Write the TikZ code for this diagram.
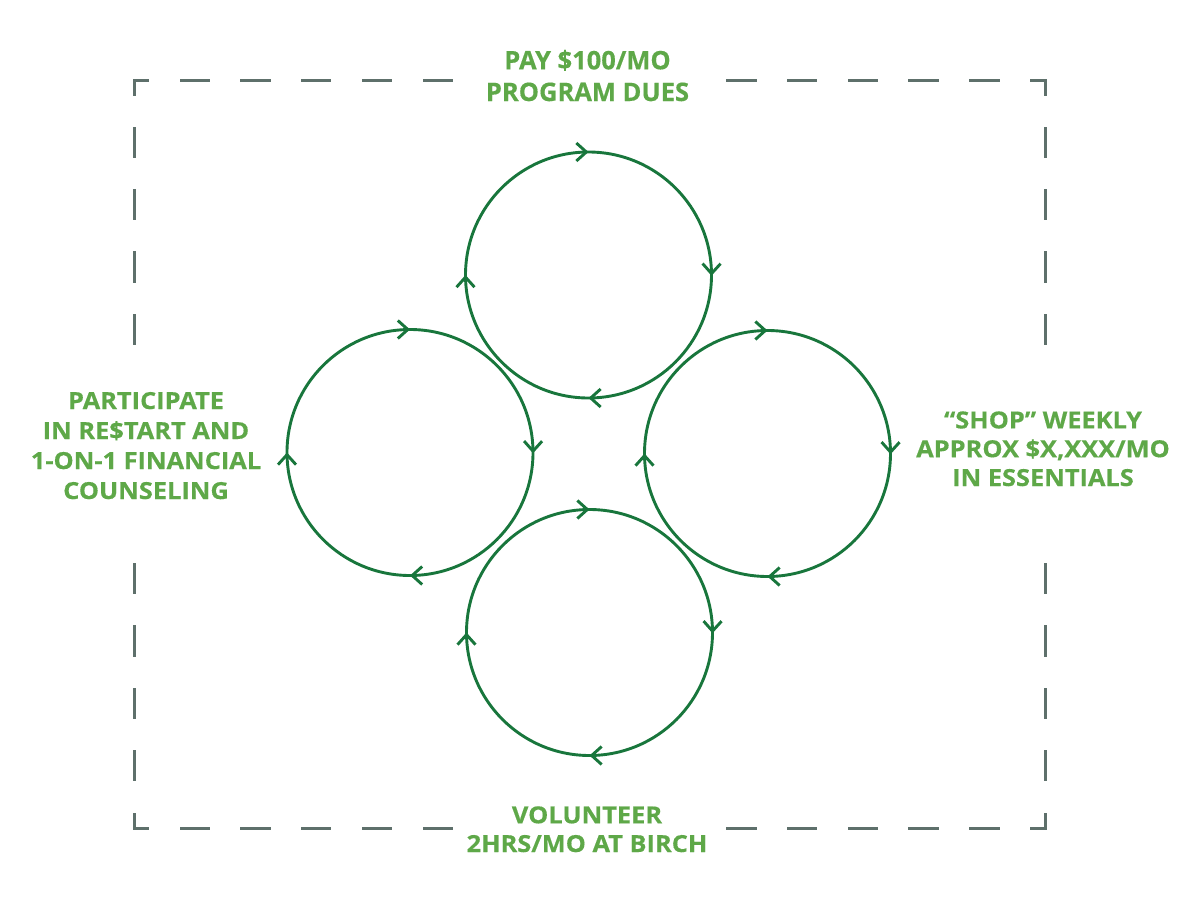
\documentclass[tikz,border=0pt]{standalone}
\usepackage{fontspec}
\setmainfont{Open Sans}
\newfontfamily\toplabelfont{Open Sans}[FakeBold=0.4]
\newfontfamily\sidelabelfont{Open Sans}[FakeStretch=1.08,FakeBold=0.4]
\usetikzlibrary{arrows.meta,decorations.markings}
\definecolor{lblgreen}{RGB}{94,168,72}
\definecolor{ringgreen}{RGB}{24,118,60}
\definecolor{framegray}{RGB}{94,112,107}
\begin{document}
\begin{tikzpicture}[x=1pt,y=-1pt,
  ringpath/.style={draw=ringgreen, line width=2.9pt, postaction={decorate},
    decoration={markings,
      mark=at position 0.001 with {\arrow{Straight Barb[length=10pt,width=18pt]}},
      mark=at position 0.25 with {\arrow{Straight Barb[length=10pt,width=18pt]}},
      mark=at position 0.5 with {\arrow{Straight Barb[length=10pt,width=18pt]}},
      mark=at position 0.75 with {\arrow{Straight Barb[length=10pt,width=18pt]}}}},
  hdashline/.style={draw=framegray, line width=3pt, line cap=rect,
    dash pattern=on 27.37pt off 33.37pt, dash phase=13.68pt},
  vdashline/.style={draw=framegray, line width=3pt, line cap=rect,
    dash pattern=on 28.17pt off 34.17pt, dash phase=14.08pt},
  biglabel/.style={font=\toplabelfont\fontsize{25.5}{31.7}\selectfont\bfseries, text=lblgreen,
    fill=white, align=center, anchor=base},
  smalllabel/.style={font=\sidelabelfont\fontsize{23.5}{29.3}\selectfont\bfseries, text=lblgreen,
    fill=white, align=center, anchor=base}
]
\useasboundingbox (0,0) rectangle (1200,900);
% frame
\coordinate (tl) at (134,80);
\coordinate (tr) at (1045,80);
\coordinate (bl) at (134,828);
\coordinate (br) at (1045,828);
\draw[hdashline] (tl) -- (tr);
\draw[hdashline] (bl) -- (br);
\draw[vdashline] (tl) -- (bl);
\draw[vdashline] (tr) -- (br);
% rings
\coordinate (ctop) at (588.5,275);
\coordinate (cleft) at (410,452.5);
\coordinate (cright) at (767.5,453.5);
\coordinate (cbottom) at (589.5,632.5);
\draw[ringpath] (ctop) circle[radius=123];
\draw[ringpath] (cleft) circle[radius=123];
\draw[ringpath] (cright) circle[radius=123];
\draw[ringpath] (cbottom) circle[radius=123];
% labels
\node[biglabel, inner xsep=12pt, inner ysep=4pt] (pay) at (587.5,101) {PAY \$100/MO\\PROGRAM DUES};
\node[smalllabel, font=\sidelabelfont\fontsize{23.5}{30}\selectfont\bfseries, inner xsep=6pt, inner ysep=40pt] (participate) at (146,499) {PARTICIPATE\\IN RE\$TART AND\\1-ON-1 FINANCIAL\\COUNSELING};
\node[smalllabel, font=\sidelabelfont\fontsize{23.5}{28.8}\selectfont\bfseries, inner xsep=6pt, inner ysep=48pt] (shop) at (1043,486) {“SHOP” WEEKLY\\APPROX \$X,XXX/MO\\IN ESSENTIALS};
\node[smalllabel, font=\sidelabelfont\fontsize{23.5}{28.7}\selectfont\bfseries, inner xsep=8pt, inner ysep=4pt] (volunteer) at (587,852) {VOLUNTEER\\2HRS/MO AT BIRCH};
\end{tikzpicture}
\end{document}
